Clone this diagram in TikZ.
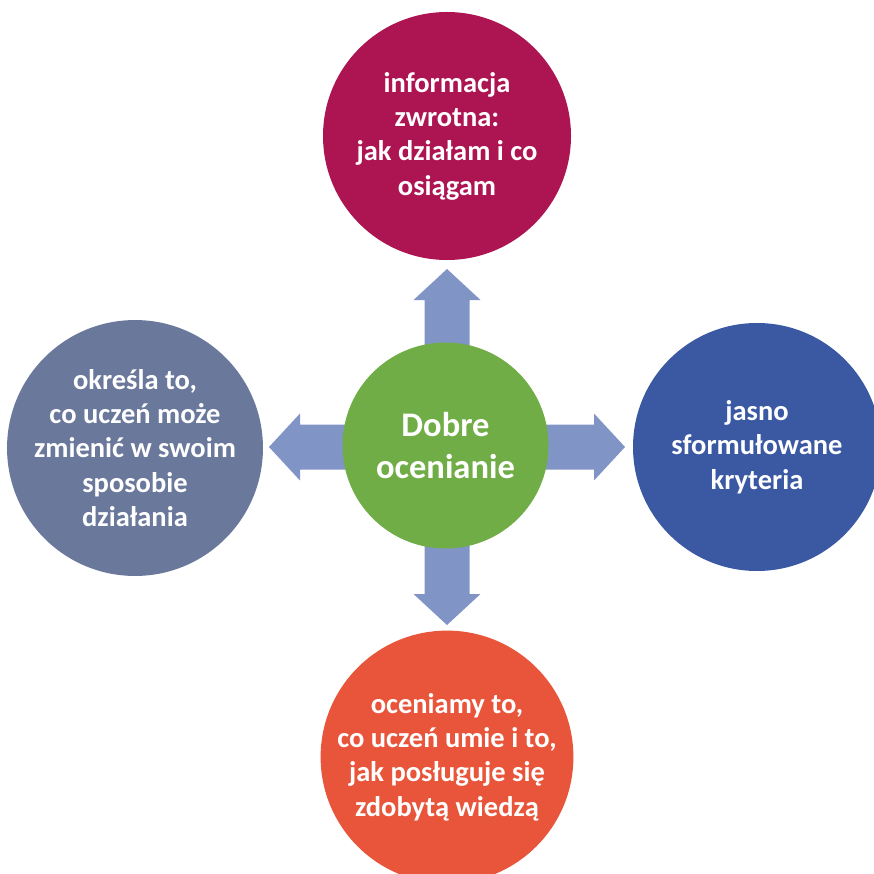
\documentclass[tikz,border=0pt]{standalone}
\usepackage{fontspec}
\setmainfont{Carlito}
\definecolor{ctop}{RGB}{173,20,82}
\definecolor{cright}{RGB}{59,89,163}
\definecolor{cbottom}{RGB}{232,85,58}
\definecolor{cleft}{RGB}{105,120,155}
\definecolor{ccenter}{RGB}{112,173,71}
\definecolor{carrow}{RGB}{128,149,198}
\tikzset{
  bubble/.style={circle, minimum size=248pt, inner sep=0pt, text=white, align=center,
    font=\fontsize{28.5pt}{34.3pt}\selectfont\bfseries},
  hub/.style={circle, minimum size=206pt, inner sep=0pt, text=white, align=center, fill=ccenter,
    font=\fontsize{34.5pt}{41.7pt}\selectfont\bfseries},
  blockarrow/.style={fill=carrow}
}
\begin{document}
\begin{tikzpicture}[x=1pt,y=-1pt]
\useasboundingbox (0,0) rectangle (874,874);
\clip (0,0) rectangle (874,874);
\fill[white] (0,0) rectangle (874,874);
\coordinate (C) at (447,447);
\foreach \a in {0,90,180,270}{
  \fill[blockarrow, rotate around={\a:(C)}]
    (507,424.5) -- (594,424.5) -- (594,413.5) -- (625,447) -- (594,480.5) -- (594,469.5) -- (507,469.5) -- cycle;
}
\node[hub] (hub) at (445.5,445.5) {Dobre\\ocenianie};
\node[bubble, fill=ctop] (top) at (447,136) {informacja\\zwrotna:\\jak działam i co\\osiągam};
\node[bubble, fill=cright] (right) at (757,447) {jasno\\sformułowane\\kryteria};
\node[bubble, fill=cbottom] (bottom) at (447,757) {oceniamy to,\\co uczeń umie i to,\\jak posługuje się\\zdobytą wiedzą};
\node[bubble, fill=cleft] (left) at (135,448) {określa to,\\co uczeń może\\zmienić w swoim\\sposobie\\działania};
\end{tikzpicture}
\end{document}
